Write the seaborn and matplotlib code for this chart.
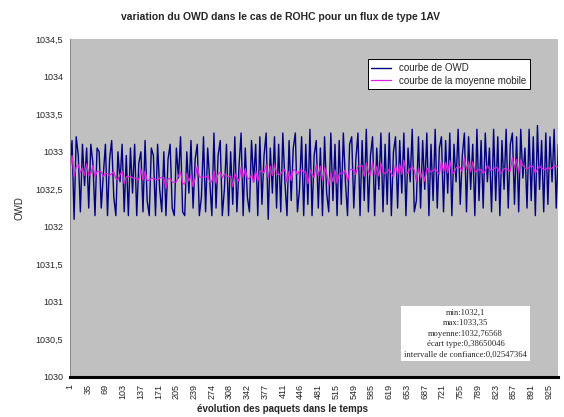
import numpy as np
import pandas as pd
import matplotlib
matplotlib.use("Agg")
import matplotlib.pyplot as plt
import seaborn as sns

# OWD values (one sample every 4 packets)
owd = [
    1032.75, 1033.15, 1032.10, 1033.20, 1032.95, 1032.20, 1033.10, 1032.55, 1033.05, 1032.25,
    1033.10, 1032.85, 1032.15, 1033.05, 1033.00, 1032.25, 1032.70, 1033.10, 1032.15, 1032.90,
    1033.15, 1032.40, 1032.15, 1033.00, 1032.60, 1033.10, 1032.20, 1032.95, 1032.15, 1033.05,
    1032.45, 1033.10, 1032.15, 1032.85, 1033.00, 1032.20, 1033.15, 1032.35, 1032.15, 1033.05,
    1032.95, 1032.15, 1033.10, 1032.50, 1032.20, 1033.00, 1032.15, 1032.90, 1033.10, 1032.25,
    1032.15, 1033.05, 1032.65, 1033.20, 1032.20, 1032.15, 1033.00, 1032.45, 1033.15, 1032.25,
    1032.90, 1033.10, 1032.15, 1032.40, 1033.20, 1032.20, 1033.05, 1032.60, 1032.15, 1033.25,
    1032.25, 1032.95, 1033.15, 1032.15, 1032.50, 1033.10, 1032.15, 1033.00, 1032.30, 1033.20,
    1032.20, 1032.80, 1033.25, 1032.15, 1033.05, 1032.40, 1032.20, 1033.15, 1032.60, 1033.10,
    1032.15, 1033.20, 1032.30, 1032.95, 1033.25, 1032.10, 1033.05, 1032.45, 1033.20, 1032.25,
    1033.10, 1032.20, 1033.25, 1032.60, 1032.15, 1033.15, 1032.35, 1033.05, 1033.25, 1032.20,
    1032.50, 1033.20, 1032.15, 1033.10, 1032.30, 1033.30, 1032.15, 1032.95, 1033.15, 1032.25,
    1033.05, 1032.15, 1033.20, 1032.45, 1032.20, 1033.25, 1032.35, 1033.10, 1032.15, 1033.15,
    1032.30, 1033.25, 1032.60, 1032.15, 1033.10, 1033.20, 1032.25, 1032.90, 1033.25, 1032.15,
    1033.15, 1032.35, 1033.30, 1032.20, 1032.95, 1033.20, 1032.15, 1033.05, 1032.50, 1033.25,
    1032.20, 1033.10, 1032.30, 1033.25, 1032.15, 1033.00, 1033.20, 1032.25, 1033.15, 1032.45,
    1033.25, 1032.15, 1033.05, 1032.60, 1033.30, 1032.20, 1032.35, 1033.20, 1032.25, 1033.15,
    1032.50, 1033.25, 1032.15, 1033.10, 1032.35, 1033.30, 1032.25, 1033.05, 1033.20, 1032.20,
    1033.15, 1032.45, 1033.25, 1032.15, 1033.10, 1032.60, 1033.30, 1032.30, 1032.95, 1033.25,
    1032.20, 1033.20, 1032.50, 1033.10, 1032.15, 1033.30, 1032.35, 1033.15, 1032.25, 1033.25,
    1032.60, 1033.05, 1032.20, 1033.30, 1032.35, 1033.20, 1032.15, 1033.15, 1032.50, 1033.30,
    1032.25, 1033.10, 1033.25, 1032.30, 1033.20, 1032.20, 1033.30, 1032.65, 1033.05, 1032.25,
    1033.30, 1032.35, 1033.20, 1032.15, 1033.35, 1032.50, 1033.15, 1032.20, 1033.25, 1032.30,
    1033.20, 1032.60, 1033.30, 1032.25, 1033.10,
]
packet_step = 4

tick_labels = ["1", "35", "69", "103", "137", "171", "205", "239", "274", "308",
               "342", "377", "411", "446", "481", "515", "549", "585", "619", "653",
               "687", "721", "755", "789", "823", "857", "891", "925"]
tick_step = 34

y_ticks = [1030, 1030.5, 1031, 1031.5, 1032, 1032.5, 1033, 1033.5, 1034, 1034.5]

stats_lines = ["min:1032,1", "max:1033,35", "moyenne:1032,76568",
               "écart type:0,38650046", "intervalle de confiance:0,02547364"]

df = pd.DataFrame({"pos": np.arange(len(owd)) * packet_step, "owd": owd})
df["moy"] = df["owd"].rolling(6, min_periods=1).mean()

sns.set_style("white")
plt.rcParams["font.family"] = ["Liberation Sans", "DejaVu Sans"]

fig = plt.figure(figsize=(5.64, 4.17), dpi=100)
ax = fig.add_axes([0.124, 0.096, 0.865, 0.81])
ax.set_facecolor("#c0c0c0")

sns.lineplot(data=df, x="pos", y="owd", ax=ax, color="#000080", linewidth=1.0,
             label="courbe de OWD")
sns.lineplot(data=df, x="pos", y="moy", ax=ax, color="#e020e0", linewidth=0.9,
             label="courbe de la moyenne mobile")

ax.set_xlim(0, 935)
ax.set_ylim(1030, 1034.5)
ax.set_yticks(y_ticks)
ax.set_yticklabels([f"{v:g}".replace(".", ",") for v in y_ticks], fontsize=6.5)
ax.set_xticks(np.arange(len(tick_labels)) * tick_step)
ax.set_xticklabels(tick_labels, rotation=90, fontsize=6.5)
ax.tick_params(axis="both", length=3, width=0.6, color="#404040", pad=2)

for side in ["top", "right"]:
    ax.spines[side].set_visible(False)
ax.spines["left"].set_color("#808080")
ax.spines["left"].set_linewidth(0.6)
ax.spines["bottom"].set_color("black")
ax.spines["bottom"].set_linewidth(2.2)

fig.text(0.497, 0.96, "variation du OWD dans le cas de ROHC pour un flux de type 1AV",
         ha="center", va="center", fontsize=7.5, fontweight="bold")
ax.set_xlabel("évolution des paquets dans le temps", fontsize=7, fontweight="bold")
ax.xaxis.set_label_coords(0.436, -0.08)
ax.set_ylabel("OWD", fontsize=7, labelpad=8)

leg = ax.legend(loc="upper left", bbox_to_anchor=(0.60, 0.955), fontsize=7,
                frameon=True, fancybox=False, framealpha=1, edgecolor="black",
                handlelength=2.0, borderpad=0.4, labelspacing=0.25)
leg.get_frame().set_linewidth(0.7)

ax.text(0.811, 0.055, "\n".join(stats_lines), transform=ax.transAxes,
        ha="center", va="bottom", fontsize=6.2, family="Liberation Serif",
        linespacing=1.4,
        bbox=dict(boxstyle="square,pad=0.35", facecolor="white", edgecolor="none"))

fig.savefig("out.png", dpi=100)
